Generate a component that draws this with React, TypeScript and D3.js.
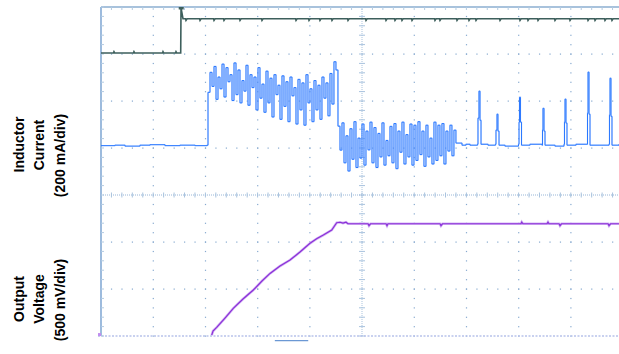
import React, { useEffect, useRef } from 'react';
import * as d3 from 'd3';

const width = 619;
const height = 354;

// scope screen: 10 x 8 divisions (bottom row cropped off the capture)
const timeDomain = [0, 10];
const divDomain = [-4, 4];

// channel 1 (enable), in divisions
const enableLowDiv = 3.02;
const enableHighDiv = 3.75;
const enableOvershootDiv = 3.98;
const enableStepT = 1.527;
const enableLowBumps = [0.249, 0.632, 1.188, 1.437];
const enableHighDips = [
  1.628, 1.897, 2.165, 2.356, 2.663, 3.084, 3.736, 3.985, 4.195, 4.425, 4.732,
  5.077, 5.46, 5.632, 5.766, 5.958, 6.398, 6.494, 6.82, 7.05, 7.184, 7.644,
  8.027, 8.18, 8.372, 8.697, 8.985, 9.33, 9.464, 9.655, 9.789,
];

// channel 2: inductor current, 200 mA/div
const currentOffsetDiv = 1.06;
const currentPerDiv = 200;
const idleCurrent = [
  [0, -2], [0.268, 0], [0.46, -4], [0.747, 0], [0.939, 2],
  [1.226, -2], [1.513, 0], [1.801, -2], [2.031, 0],
];
const sampleStep = 0.0383;
const burst1Start = 2.05;
const burst1Current = [
  225, 310, 250, 335, 195, 290, 240, 345, 205, 330,
  270, 300, 190, 350, 215, 320, 180, 275, 230, 340,
  170, 300, 245, 290, 150, 330, 200, 260, 140, 315,
  180, 285, 120, 300, 215, 255, 110, 295, 165, 270,
  100, 290, 210, 245, 90, 280, 150, 265, 85, 300,
  180, 240, 100, 275, 150, 255, 110, 290, 200, 265,
  125, 305, 175, 355, 320, 183,
];
const burst2Start = 4.54;
const burst2Current = [
  81, -21, 95, -75, 40, -110, 70, -60, 100, -95,
  30, -55, 90, -85, 60, -20, 98, -75, 75, -95,
  50, -50, 95, -85, 20, -45, 80, -75, 92, -100,
  60, -30, 98, -80, 45, -50, 90, -85, 85, -65,
  100, -40, 60, -90, 85, -50, 30, -80, 98, -65,
  85, -45, 92, -80, 60, -25, 85, -45, 64, 9,
];
const tailCurrent = [
  [6.916, 0], [6.992, 4], [7.069, 0], [7.213, 4],
  [7.222, 115], [7.241, 230], [7.261, 106], [7.28, 4],
  [7.414, 0], [7.557, 4],
  [7.567, 64], [7.586, 132], [7.605, 60], [7.625, 0],
  [7.739, -4], [7.874, -4], [7.998, 4],
  [8.008, 98], [8.017, 204], [8.036, 98], [8.056, 0],
  [8.218, 4], [8.448, 0],
  [8.458, 64], [8.467, 157], [8.487, 60], [8.506, 0],
  [8.697, -4], [8.87, 4],
  [8.879, 98], [8.889, 196], [8.908, 94], [8.927, 0],
  [9.1, 4], [9.31, 4],
  [9.32, 136], [9.33, 311], [9.349, 132], [9.368, 0],
  [9.559, 0], [9.732, 4],
  [9.741, 128], [9.751, 285], [9.77, 123], [9.789, 0],
  [9.923, 4],
];

// channel 3: output voltage, 500 mV/div
const voltageOffsetDiv = -2.98;
const voltagePerDiv = 500;
const outputVoltage = [
  [2.121, 0], [2.146, 43], [2.216, 82], [2.375, 181], [2.534, 284],
  [2.72, 383], [2.918, 479], [3.084, 575], [3.238, 656], [3.429, 734],
  [3.621, 798], [3.812, 883], [4.004, 976], [4.138, 1027], [4.259, 1064],
  [4.42, 1117], [4.515, 1195], [4.579, 1200], [4.636, 1191], [4.693, 1200],
  [4.732, 1184], [5.115, 1184], [5.134, 1163], [5.163, 1184],
  [5.46, 1184], [5.479, 1163], [5.498, 1184],
  [6.494, 1184], [6.513, 1163], [6.542, 1184],
  [8.046, 1184], [8.06, 1202], [8.084, 1184],
  [8.544, 1184], [8.563, 1202], [8.582, 1184],
  [8.774, 1184], [8.793, 1163], [8.822, 1184],
  [9.713, 1184], [9.732, 1163], [9.761, 1184], [9.923, 1184],
];

const cursorBar = [3.33, 3.97];
const cursorLevelDiv = -3.1;

const currentLabel = ['Inductor', 'Current', '(200 mA/div)'];
const voltageLabel = ['Output', 'Voltage', '(500 mV/div)'];

function App() {
  const svgRef = useRef<SVGSVGElement>(null);

  useEffect(() => {
    const svg = d3.select(svgRef.current);
    svg.selectAll('*').remove();

    const x = d3.scaleLinear().domain(timeDomain).range([101, 623]);
    const y = d3.scaleLinear().domain(divDomain).range([383, 7]);
    const yBottom = y(-3);
    const gridColor = '#86a9cf';

    svg.append('rect').attr('width', width).attr('height', height).attr('fill', '#fff');

    svg.append('defs').append('clipPath').attr('id', 'screen')
      .append('rect').attr('x', x(0)).attr('y', 0).attr('width', width).attr('height', yBottom + 2);

    const grid = svg.append('g');
    const minorX = d3.range(0, 10.001, 0.2);
    const minorY = d3.range(-3, 4.001, 0.2);

    // dotted major lines
    [1, 2, 3, 4, 6, 7, 8, 9].forEach(i => {
      minorY.forEach(m => {
        grid.append('rect').attr('x', x(i) - 0.5).attr('y', y(m) - 0.5)
          .attr('width', 1.2).attr('height', 1.2).attr('fill', gridColor);
      });
    });
    [-2, -1, 1, 2, 3].forEach(j => {
      minorX.forEach(m => {
        grid.append('rect').attr('x', x(m) - 0.5).attr('y', y(j) - 0.5)
          .attr('width', 1.2).attr('height', 1.2).attr('fill', gridColor);
      });
    });

    // centre crosshair with minor ticks
    grid.append('line').attr('x1', x(5)).attr('x2', x(5)).attr('y1', y(4)).attr('y2', yBottom)
      .attr('stroke', '#a9c3de').attr('stroke-dasharray', '1,1');
    minorY.forEach(m => {
      grid.append('line').attr('x1', x(5) - 3).attr('x2', x(5) + 3).attr('y1', y(m)).attr('y2', y(m))
        .attr('stroke', '#a9c3de');
    });
    grid.append('line').attr('x1', x(0)).attr('x2', width).attr('y1', y(0)).attr('y2', y(0))
      .attr('stroke', '#97b6d8').attr('stroke-dasharray', '1,1');
    minorX.forEach(m => {
      grid.append('line').attr('x1', x(m)).attr('x2', x(m)).attr('y1', y(0) - 2.5).attr('y2', y(0) + 2.5)
        .attr('stroke', '#a9c3de');
    });

    // bottom row (noisy, cropped)
    grid.append('line').attr('x1', x(0) - 3).attr('x2', width).attr('y1', yBottom).attr('y2', yBottom)
      .attr('stroke', '#b8c2ea').attr('stroke-width', 1.3).attr('stroke-dasharray', '2,1.5');

    // borders with ticks
    grid.append('line').attr('x1', x(0)).attr('x2', width).attr('y1', y(4)).attr('y2', y(4))
      .attr('stroke', '#a8c2dc').attr('stroke-width', 2);
    minorX.forEach(m => {
      grid.append('line').attr('x1', x(m)).attr('x2', x(m)).attr('y1', y(4)).attr('y2', y(4) + 3)
        .attr('stroke', '#b3cbe2');
    });
    grid.append('line').attr('x1', x(0)).attr('x2', x(0)).attr('y1', y(4)).attr('y2', yBottom)
      .attr('stroke', '#9dbbdd').attr('stroke-width', 2);
    minorY.forEach(m => {
      grid.append('line').attr('x1', x(0)).attr('x2', x(0) + 3).attr('y1', y(m)).attr('y2', y(m))
        .attr('stroke', '#b3cbe2');
    });

    const traces = svg.append('g').attr('clip-path', 'url(#screen)');

    // channel 1
    const enablePts: number[][] = [[0, enableLowDiv]];
    enableLowBumps.forEach(b => {
      enablePts.push([b - 0.01, enableLowDiv], [b, enableLowDiv + 0.03], [b + 0.015, enableLowDiv]);
    });
    enablePts.push([enableStepT, enableLowDiv], [enableStepT + 0.006, enableOvershootDiv],
      [enableStepT + 0.044, enableHighDiv]);
    enableHighDips.forEach(d => {
      enablePts.push([d - 0.01, enableHighDiv], [d, enableHighDiv - 0.035], [d + 0.02, enableHighDiv]);
    });
    enablePts.push([10, enableHighDiv]);
    const line = d3.line<number[]>().x(d => x(d[0])).y(d => y(d[1]));
    traces.append('path').datum(enablePts).attr('d', line)
      .attr('fill', 'none').attr('stroke', '#3d5f5c').attr('stroke-width', 1.6);
    traces.append('rect').attr('x', x(enableStepT) - 2).attr('y', y(4)).attr('width', 5).attr('height', 2.5)
      .attr('fill', '#3d5f5c');

    // channel 2
    const toCur = (mA: number) => currentOffsetDiv + mA / currentPerDiv;
    const currentPts: number[][] = [
      ...idleCurrent.map(d => [d[0], toCur(d[1])]),
      ...burst1Current.map((v, i) => [burst1Start + i * sampleStep, toCur(v)]),
      ...burst2Current.map((v, i) => [burst2Start + i * sampleStep, toCur(v)]),
      ...tailCurrent.map(d => [d[0], toCur(d[1])]),
    ];
    const stepLine = d3.line<number[]>().x(d => x(d[0])).y(d => y(d[1])).curve(d3.curveStepAfter);
    traces.append('path').datum(currentPts).attr('d', stepLine)
      .attr('fill', 'none').attr('stroke', '#8fb8ff').attr('stroke-width', 1.3).attr('stroke-opacity', 0.5);
    traces.append('path').datum(currentPts).attr('d', stepLine)
      .attr('fill', 'none').attr('stroke', '#2a78ff').attr('stroke-width', 1);

    // channel 3
    const voltPts = outputVoltage.map(d => [d[0], voltageOffsetDiv + d[1] / voltagePerDiv]);
    traces.append('path').datum(voltPts).attr('d', line)
      .attr('fill', 'none').attr('stroke', '#d3b3f3').attr('stroke-width', 2.6);
    traces.append('path').datum(voltPts).attr('d', line)
      .attr('fill', 'none').attr('stroke', '#8a2fd8').attr('stroke-width', 1.2);

    // markers
    svg.append('rect').attr('x', x(0) - 3).attr('y', y(voltageOffsetDiv) - 2).attr('width', 3).attr('height', 3)
      .attr('fill', '#c18ef0');
    svg.append('line').attr('x1', x(cursorBar[0])).attr('x2', x(cursorBar[1]))
      .attr('y1', y(cursorLevelDiv)).attr('y2', y(cursorLevelDiv))
      .attr('stroke', '#6b98d4').attr('stroke-width', 1.2);

    // channel labels
    const labelX = [24, 44, 65];
    const addLabel = (lines: string[], centres: number[]) => {
      lines.forEach((txt, i) => {
        svg.append('text')
          .attr('transform', `translate(${labelX[i]},${centres[i]}) rotate(-90)`)
          .attr('text-anchor', 'middle')
          .style('font-family', '"Liberation Sans", Arial, sans-serif')
          .style('font-weight', 'bold')
          .style('font-size', '14px')
          .attr('fill', '#000')
          .text(txt);
      });
    };
    addLabel(currentLabel, [144.5, 145, 155.5]);
    addLabel(voltageLabel, [299, 299, 300]);
  }, []);

  return (
    <svg
      ref={svgRef}
      width={width}
      height={height}
      style={{ position: 'absolute', left: 0, top: 0, display: 'block' }}
    />
  );
}

export default App;
